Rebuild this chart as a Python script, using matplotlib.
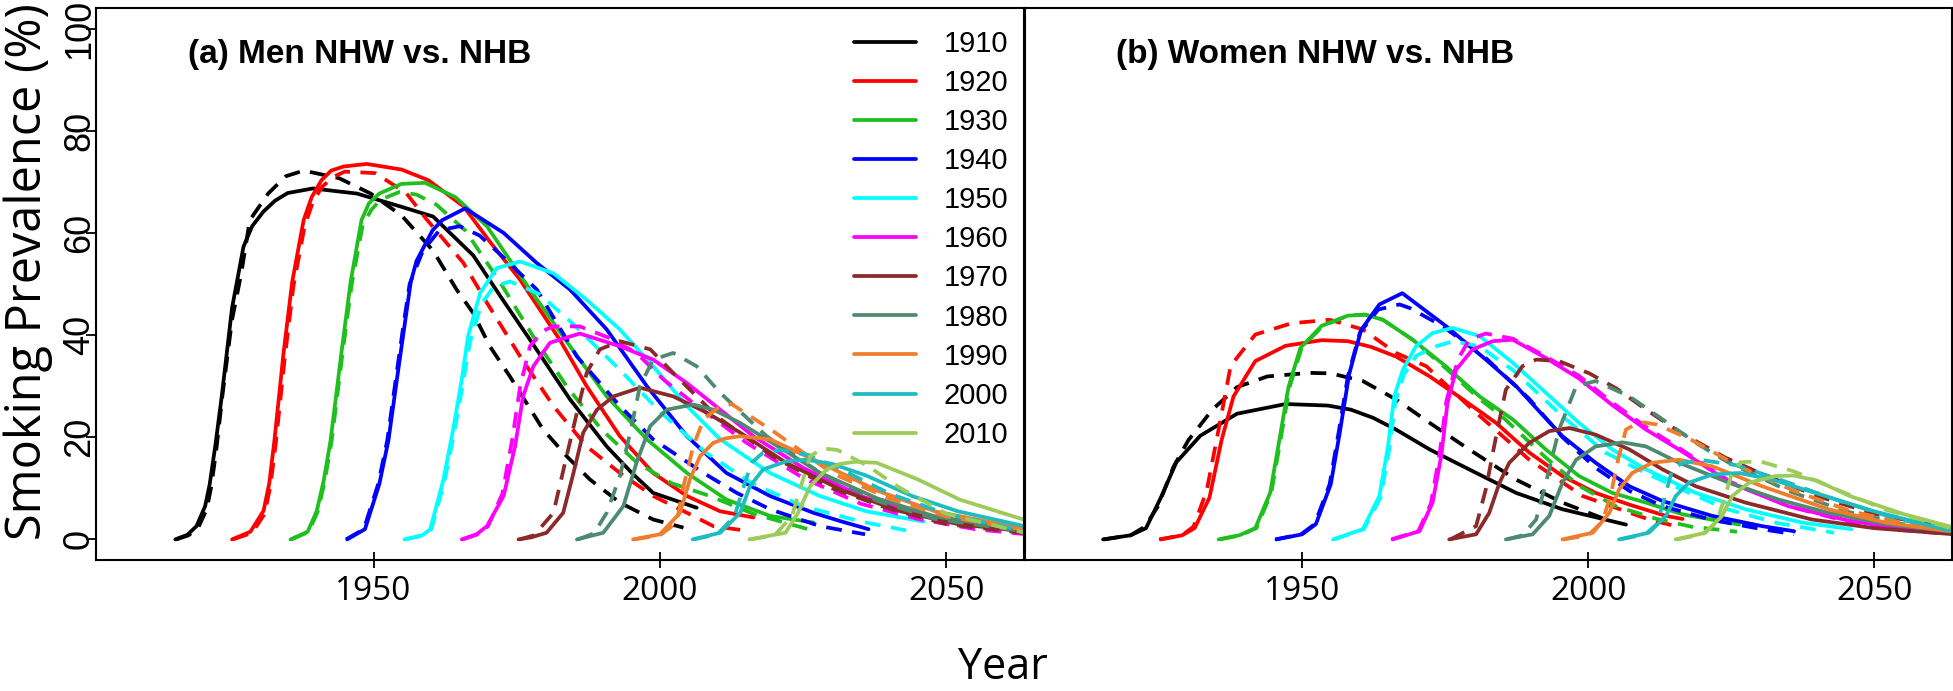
import matplotlib
matplotlib.use("Agg")
import matplotlib.pyplot as plt

# birth cohorts and their line colours
cohorts = [1910, 1920, 1930, 1940, 1950, 1960, 1970, 1980, 1990, 2000, 2010]
colors = ["#000000", "#ff0000", "#1fbf1f", "#0000ff", "#00ffff", "#ff00ff",
          "#8b2a2a", "#4d8a70", "#ee7e2e", "#1cbcc0", "#9ccb5a"]

# ---- men, NHW (solid) ----
men_nhw_x = [
    [1915.4, 1917.5, 1919.1, 1920.6, 1921.4, 1922.4, 1923.5, 1925.3, 1927.3, 1928.8, 1930.8, 1932.8, 1935, 1939.4, 1947.1, 1954.9, 1960.4, 1967.4, 1972.5, 1977.3, 1984.3, 1990.7, 1995.1, 1998.8, 2006.4],
    [1925.3, 1928.5, 1930.8, 1931.8, 1932.7, 1934.3, 1935.8, 1937.8, 1939.2, 1940.9, 1942.6, 1944.8, 1948.8, 1954.9, 1959.6, 1965.7, 1970.5, 1975.6, 1982.5, 1987.2, 1993, 1998.8, 2004.7, 2010.5, 2016.3],
    [1935.5, 1938.5, 1940.1, 1941.3, 1942.5, 1944.4, 1946, 1947.9, 1949.2, 1951, 1954.9, 1959, 1964.3, 1969.8, 1977.3, 1984.3, 1990.7, 1997.7, 2004.7, 2011.6, 2019.2, 2026.8],
    [1945.4, 1948.5, 1951, 1952.6, 1954.2, 1955.3, 1956.5, 1957.5, 1958.8, 1960.3, 1962, 1966, 1972.7, 1978.5, 1984.3, 1990.7, 1997.7, 2004.7, 2011.6, 2019.2, 2026.8, 2031.4, 2036.4],
    [1955.4, 1958.5, 1959.9, 1962.2, 1963.9, 1965.4, 1966.5, 1968.6, 1971.5, 1975.6, 1981.4, 1987.2, 1993, 1998.8, 2004.7, 2010.5, 2019.2, 2027.9, 2036, 2046],
    [1965.4, 1968, 1969.8, 1972.7, 1974.7, 1976.1, 1977.9, 1980.8, 1986, 1993, 1998.8, 2004.7, 2010.5, 2016.3, 2025, 2035, 2045, 2055, 2064],
    [1975.3, 1977.5, 1980.2, 1983.1, 1984.9, 1986.6, 1989, 1991.9, 1996.5, 2002.3, 2008.2, 2014, 2022, 2032, 2042, 2052, 2064],
    [1985.5, 1990.1, 1993.6, 1995.9, 1998.3, 2001.2, 2005.8, 2009.3, 2014, 2018.6, 2028, 2038, 2048, 2064],
    [1995.3, 2000, 2003.5, 2005.2, 2007, 2009.3, 2011.5, 2014, 2019.2, 2028, 2038, 2048, 2064],
    [2005.7, 2010.5, 2014, 2015.7, 2018, 2022.1, 2025.5, 2030, 2036, 2044, 2052, 2064],
    [2015.6, 2021.9, 2024.1, 2026.2, 2029.1, 2031.5, 2034.2, 2037.8, 2045.1, 2052.3, 2064],
]
men_nhw_y = [
    [0, 0.9, 2.6, 6.5, 10.8, 18.5, 28, 45.3, 57.3, 61.3, 64.2, 66.3, 67.8, 68.7, 67.7, 65.1, 63.2, 55.6, 47, 39.1, 27.4, 18.2, 13, 9.1, 6.2],
    [0, 1.5, 5.6, 11, 19.4, 36.6, 50.4, 62.5, 67, 70.3, 72.2, 73, 73.5, 72.4, 70.3, 65.2, 58, 50.8, 39.1, 30, 20.2, 13, 8.5, 5.5, 4.3],
    [0, 1.5, 5.6, 11.5, 19.4, 36.6, 50.4, 62.5, 65.8, 67.7, 69.6, 69.8, 67, 61.3, 48.9, 37.8, 28, 19.6, 13, 7.8, 4.6, 3.3],
    [0, 2, 10.8, 19.4, 32.3, 41, 50.4, 54.5, 57.3, 60.5, 62.5, 64.8, 60, 54.1, 48.9, 41.1, 30, 20.2, 13, 8.5, 5.2, 3.6, 2],
    [0, 0.8, 2, 11.7, 21.5, 31.3, 39.8, 48.2, 53.1, 54.4, 52.1, 46.9, 41.1, 33.9, 26.1, 19.6, 13, 8.5, 5.5, 3.5],
    [0, 1, 2.6, 8.5, 18.2, 28, 33.9, 38.5, 40.3, 37.8, 35.2, 30.6, 25.4, 20.2, 14, 8.5, 5, 3, 2],
    [0, 0.4, 1.3, 5.2, 13, 20.9, 25.4, 28, 29.7, 28, 24.8, 20.9, 15, 9.5, 5.5, 3, 1.5],
    [0, 1.3, 6.5, 15, 22.2, 25.4, 26.4, 25.4, 22.8, 19.6, 13, 8, 4.5, 1.8],
    [0, 1, 5.2, 11.7, 16.3, 18.9, 19.8, 20.2, 19.6, 15, 9.5, 5.5, 2],
    [0, 1.3, 5.2, 10.4, 13.7, 15.3, 15.6, 14.8, 12.5, 8.5, 5.5, 2.5],
    [0, 1.3, 5.2, 10.4, 13.7, 14.8, 15.2, 15, 11.7, 7.8, 3.7],
]

# ---- men, NHB (dashed) ----
men_nhb_x = [
    [1915.6, 1917.7, 1919.4, 1920.9, 1921.7, 1922.6, 1923.6, 1925.3, 1926.9, 1928.4, 1931.6, 1934.7, 1937.8, 1944, 1949.5, 1954.9, 1960.4, 1964.5, 1967.4, 1970.3, 1973.8, 1979.6, 1983.7, 1987.8, 1993, 1998.8, 2004.1],
    [1925.5, 1928.8, 1931, 1932, 1932.9, 1934.5, 1936, 1938, 1939.4, 1941, 1943, 1945, 1950.3, 1955.7, 1959.3, 1962.4, 1965.7, 1969.8, 1975.6, 1981.4, 1987.2, 1993, 1998.8, 2005.8, 2009.3, 2015.7],
    [1935.7, 1938.7, 1940.3, 1941.5, 1942.7, 1944.6, 1946.2, 1948.1, 1949.6, 1951.2, 1954.5, 1957.5, 1961, 1966, 1972, 1978, 1984, 1989.8, 1996, 2002, 2008.7, 2016.3, 2026.5],
    [1945.2, 1948.3, 1950.8, 1952.4, 1954, 1955.1, 1956.3, 1958.6, 1961.5, 1965, 1968.5, 1972.4, 1978.5, 1985.5, 1993, 1998.8, 2007.6, 2013.4, 2019.2, 2027.9, 2035.8],
    [1955.6, 1958.7, 1960.1, 1962.4, 1964.1, 1965.6, 1966.8, 1968.8, 1971, 1973.8, 1979, 1984.6, 1993, 2000, 2008, 2016, 2025, 2035, 2044.2],
    [1965.6, 1968.2, 1970, 1972.5, 1974.2, 1975.6, 1977.3, 1979.5, 1981.4, 1986, 1991, 1995.9, 2000.6, 2005.8, 2015, 2025, 2035, 2045, 2055, 2064],
    [1975.5, 1978, 1981.4, 1983.7, 1985.5, 1987.2, 1989.5, 1993, 1998.3, 2002.9, 2010, 2020, 2030, 2040, 2050, 2064],
    [1985.7, 1988.5, 1990.7, 1993, 1994.8, 1996.5, 1998.8, 2002.3, 2006.4, 2010.5, 2018.6, 2028, 2038, 2048, 2064],
    [1995.5, 2000, 2002.9, 2004.1, 2005.8, 2007.6, 2010.5, 2012.5, 2020, 2030, 2040, 2050, 2064],
    [2005.9, 2010, 2013, 2014.5, 2016, 2018, 2021, 2026, 2032, 2040, 2050, 2064],
    [2015.8, 2020, 2023, 2024.5, 2026.2, 2028.5, 2031, 2036.4, 2041.4, 2050, 2064],
]
men_nhb_y = [
    [0, 0.8, 2.3, 6, 10.5, 18, 28, 43, 52, 62.5, 67.7, 71.1, 72.2, 70.7, 67.7, 63.4, 56.5, 48.9, 44.3, 37.8, 31.9, 21.5, 16.3, 11.7, 7.2, 3.9, 2.3],
    [0, 1.3, 5, 10.5, 18.5, 35.5, 49.5, 61.5, 66, 69, 71, 72, 71.7, 67.8, 62.6, 58.5, 54.1, 46.3, 35.8, 26.1, 18.2, 13, 8.5, 4.6, 2.6, 1.6],
    [0, 1.5, 5.6, 11.5, 19.4, 36.6, 50, 61.5, 64.5, 66.5, 68, 67.5, 65.5, 60.5, 50.5, 39.5, 29.5, 21.5, 15, 11, 8.5, 5, 1.8],
    [0, 2, 10.8, 19.4, 32.3, 41, 50, 56.5, 60.5, 61.3, 59.5, 55.5, 48.9, 35.8, 26.1, 19.6, 13, 9.1, 5.9, 2.6, 1],
    [0, 0.8, 2, 11.5, 21, 30.5, 38.5, 46, 49.5, 50.5, 48, 42.4, 33.2, 25, 17, 11, 6.5, 3.5, 1.5],
    [0, 1, 2.6, 9, 19.5, 30, 37.8, 40.8, 41.7, 41.7, 39.5, 36.5, 31.3, 26.7, 19, 12, 7, 4, 2, 1],
    [0, 0.8, 5.2, 16.3, 24.8, 32.6, 37.2, 38.8, 37.2, 31.9, 24, 16, 10, 6, 3, 1.2],
    [0, 1.2, 5.2, 12.4, 20.9, 30, 35.2, 36.5, 33.9, 28.7, 20.2, 13, 7.5, 4, 1.5],
    [0, 0.8, 3.3, 10.4, 18.2, 23.5, 26.1, 26.5, 21, 13, 8, 4.5, 1.8],
    [0, 1, 4.5, 10, 15, 17, 17.5, 16.5, 13.5, 9, 5, 1.5],
    [0, 0.8, 4.5, 10, 16.3, 17.8, 17.5, 14.3, 10.4, 5, 1.2],
]

# ---- women, NHW (solid) ----
women_nhw_x = [
    [1915.2, 1920, 1922.7, 1925.3, 1928, 1932.2, 1938.6, 1947.1, 1954.5, 1958.5, 1962.4, 1966.4, 1972.3, 1979.2, 1987.4, 1995.5, 2006.6],
    [1925.3, 1929, 1931.2, 1933.8, 1935.9, 1938, 1941.8, 1947.1, 1953.4, 1958, 1962, 1966.4, 1972.3, 1978.1, 1983.9, 1989.7, 1995.5, 2001.3, 2007.2, 2013.6, 2016.5],
    [1935.4, 1939, 1941.8, 1944.4, 1946, 1947.6, 1949.7, 1953.4, 1958, 1961, 1964.1, 1969.3, 1975.1, 1981, 1986.8, 1992.6, 1998.4, 2004.2, 2010.1, 2016.5, 2026.4],
    [1945.5, 1950, 1952.4, 1955, 1956.6, 1958.2, 1960.3, 1963.5, 1967.5, 1975.2, 1982.1, 1987.4, 1991.5, 1995.5, 2001.3, 2007.2, 2013, 2021.7, 2030.4, 2036],
    [1955.4, 1960.6, 1963.5, 1965, 1966.1, 1967.6, 1969.9, 1972.8, 1976.3, 1981, 1986.8, 1992.6, 1998.4, 2004.2, 2010.1, 2018.8, 2027.5, 2037.4, 2046],
    [1965.8, 1970.5, 1972.8, 1974.3, 1975.4, 1976.9, 1979.8, 1983.3, 1986.8, 1992.6, 1998.4, 2004.2, 2010.1, 2016, 2025, 2035, 2045, 2055, 2064],
    [1975.7, 1980.4, 1982.7, 1984.5, 1986.2, 1989.7, 1993.2, 1996.7, 2001.3, 2007.2, 2013, 2018.8, 2027.5, 2039.1, 2050, 2064],
    [1985.6, 1990.3, 1993.2, 1995.5, 1997.9, 2001.3, 2006, 2010.1, 2015.9, 2024.6, 2033.3, 2042, 2052, 2064],
    [1995.5, 2000.8, 2003.7, 2005.4, 2007.7, 2011.2, 2015.9, 2021.7, 2030.4, 2042, 2052, 2064],
    [2005.4, 2010.6, 2013.6, 2015.3, 2017.6, 2021.7, 2026.4, 2032.2, 2040, 2050, 2064],
    [2015.3, 2020.5, 2023.4, 2025.2, 2028.1, 2032.8, 2036, 2040, 2045.7, 2055, 2064],
]
women_nhw_y = [
    [0, 0.8, 2.2, 8.2, 15.1, 20.3, 24.6, 26.5, 26.2, 25.4, 23.8, 21.5, 17.6, 13.7, 9.1, 5.9, 2.9],
    [0, 0.8, 2.2, 8.2, 19.4, 28, 34.9, 37.9, 39, 38.8, 37.7, 35.8, 31.9, 27.4, 22.8, 17, 12.4, 9.1, 6.8, 4.6, 4],
    [0, 0.8, 2.2, 9.1, 19.4, 29.8, 37.5, 41.8, 43.8, 44, 43, 39.1, 33.9, 28, 23.5, 17.6, 12.4, 9.1, 7.2, 4.9, 2.9],
    [0, 1, 3, 10.8, 21.1, 32.3, 41, 46, 48.2, 41.7, 35.2, 30, 25, 20.2, 15, 10.4, 7.5, 4.6, 2.6, 1.6],
    [0, 2, 8.5, 18.2, 28, 33.2, 37.8, 40.4, 41.4, 39.8, 34.6, 28.7, 22.8, 17.6, 13.7, 9.1, 5.9, 3.3, 2],
    [0, 1.6, 7.2, 16.3, 26.7, 33.2, 37.2, 38.8, 39.1, 35.5, 31.5, 26.3, 21.5, 17.5, 11, 6.5, 3.8, 2, 1.2],
    [0, 1, 5.2, 11.1, 15, 18.9, 21.2, 21.8, 20.5, 17.6, 13.7, 10.4, 7.2, 3.9, 2.2, 1],
    [0, 1, 4.6, 11.1, 15.6, 18.2, 19, 18.2, 15, 11.1, 7.8, 5.2, 3, 1.5],
    [0, 1.3, 5.2, 9.8, 13, 15, 15.6, 14.3, 10.4, 5.9, 3.3, 1.5],
    [0, 1.3, 4.6, 8.5, 11.1, 12.7, 13, 11.7, 9, 5.5, 1.5],
    [0, 1.3, 4.6, 8.5, 11.1, 12.4, 12.5, 11.5, 8.5, 5, 2.3],
]

# ---- women, NHB (dashed) ----
women_nhb_x = [
    [1915.3, 1920, 1922.5, 1924.8, 1927.5, 1930.1, 1934.3, 1938.6, 1943.9, 1951.3, 1955, 1960.6, 1966.4, 1972.3, 1979.2, 1987.4, 1995.5, 2004],
    [1925, 1929, 1931, 1933.3, 1935.3, 1937.5, 1941.8, 1948.1, 1954.8, 1960.6, 1966.4, 1971.7, 1979.8, 1989.7, 1999, 2010.6, 2015.3],
    [1935.6, 1939.2, 1942, 1944.6, 1946.2, 1947.8, 1949.9, 1953.6, 1958, 1961, 1964.1, 1969.3, 1975.1, 1981, 1985, 1992.6, 1998.4, 2004.8, 2012, 2018, 2026],
    [1945.3, 1949.8, 1952.2, 1954.8, 1956.4, 1958, 1960.1, 1963.3, 1967, 1968.8, 1974.6, 1982.1, 1989.7, 1995.5, 2001.3, 2007.2, 2013, 2021.7, 2030.4, 2036],
    [1955.6, 1960.8, 1963.7, 1965.2, 1966.3, 1967.8, 1970, 1973.4, 1976.5, 1981, 1987, 1995.5, 2003, 2010, 2015.9, 2024, 2033, 2043],
    [1965.6, 1970.3, 1972.5, 1974, 1975.2, 1976.5, 1977.5, 1979.2, 1982.1, 1986.8, 1992.6, 1998.4, 2004.2, 2010.1, 2016, 2025, 2035, 2045, 2055, 2064],
    [1975.9, 1980.4, 1982.1, 1983.9, 1985.6, 1988.5, 1990.9, 1994.9, 2000.2, 2005, 2010, 2016, 2024, 2030, 2040, 2050, 2064],
    [1985.8, 1988.5, 1990.9, 1992.6, 1994.9, 1997.9, 2001.3, 2007.2, 2013, 2018.8, 2024.6, 2035, 2045, 2055, 2064],
    [1995.7, 2000, 2002.5, 2004, 2005.3, 2006.6, 2009, 2012, 2018, 2026, 2036, 2046, 2056, 2064],
    [2005.6, 2010, 2012, 2013.2, 2014.7, 2016.5, 2020, 2026, 2034, 2044, 2054, 2064],
    [2015.5, 2020, 2022.5, 2023.8, 2025, 2026.6, 2030, 2036, 2044, 2052, 2064],
]
women_nhb_y = [
    [0, 0.8, 2.5, 6.5, 14.2, 19.4, 25.4, 29.8, 31.9, 32.6, 32.5, 31, 27.4, 22.8, 17.6, 11.7, 7.2, 3.5],
    [0, 0.8, 2.5, 9.5, 21, 34, 40.1, 42.3, 43, 41.1, 36.5, 33.9, 25.4, 15.6, 8.5, 3.9, 2.6],
    [0, 0.8, 2.2, 9.1, 19.4, 29.8, 37.5, 41.8, 43.8, 44, 43, 39.1, 33.5, 27.5, 24, 16, 10.5, 6.5, 4, 2.5, 1.5],
    [0, 1, 3, 10.8, 21.1, 32, 40.5, 45, 46, 45.3, 41.7, 35.5, 27.5, 20, 14, 9.5, 6.5, 3.8, 2, 1],
    [0, 2, 8.2, 17.5, 27, 32.3, 36, 37.8, 38.8, 37.8, 33, 24.1, 17, 13, 10, 6, 3.2, 1.3],
    [0, 1.6, 7, 16.5, 27, 32.5, 35.8, 39.1, 40.3, 39.3, 35.8, 32, 26.8, 22, 17.8, 11.2, 6.5, 3.6, 1.8, 1],
    [0, 2.6, 9.8, 20.2, 29.3, 33.9, 35.2, 34.9, 32.5, 29.5, 25.5, 21, 16, 13, 8.5, 5, 2],
    [0, 0.8, 3.9, 11.1, 21.5, 30, 31, 28, 23.5, 18.9, 15, 9.5, 5.5, 3, 1.8],
    [0, 0.8, 3.5, 9, 16, 21.5, 23, 22.5, 19.5, 14.5, 9.5, 5.5, 3, 1.8],
    [0, 1, 3, 7.5, 13.7, 15, 15.5, 14.5, 11.5, 7.5, 4, 1.8],
    [0, 1, 3.5, 8, 12.5, 15.1, 15.3, 13.3, 9.5, 5.8, 2],
]

x_ticks = [1950, 2000, 2050]
y_ticks = [0, 20, 40, 60, 80, 100]
panel_titles = ["(a) Men NHW vs. NHB", "(b) Women NHW vs. NHB"]

LW = 2.7
fig = plt.figure(figsize=(19.53, 6.91), dpi=100)
ax1 = fig.add_axes([0.0490, 0.1896, 0.4755, 0.7990])
ax2 = fig.add_axes([0.5247, 0.1896, 0.4748, 0.7990])

panels = [(ax1, men_nhw_x, men_nhw_y, men_nhb_x, men_nhb_y),
          (ax2, women_nhw_x, women_nhw_y, women_nhb_x, women_nhb_y)]

for ax, sx, sy, dx, dy in panels:
    for i, c in enumerate(cohorts):
        ax.plot(sx[i], sy[i], color=colors[i], lw=LW, solid_joinstyle="round",
                solid_capstyle="round", label=str(c))
        ax.plot(dx[i], dy[i], color=colors[i], lw=LW, dashes=(4.2, 2.8),
                dash_joinstyle="round")
    ax.set_xlim(1901.5, 2063.6)
    ax.set_ylim(-4.03, 104.05)
    ax.set_xticks(x_ticks)
    ax.set_xticklabels([str(t) for t in x_ticks], fontfamily="Open Sans", fontsize=24)
    ax.tick_params(axis="x", direction="inout", length=11, width=1.3, pad=5)
    for sp in ax.spines.values():
        sp.set_linewidth(1.5)

ax1.set_yticks(y_ticks)
ax1.set_yticklabels([str(t) for t in y_ticks], rotation=90, va="center",
                    fontfamily="Liberation Sans", fontsize=26)
ax1.tick_params(axis="y", direction="out", length=7, width=1.3, pad=-8)
ax2.set_yticks([])

ax1.text(0.0994, 0.8997, panel_titles[0], transform=ax1.transAxes,
         fontfamily="Liberation Sans", fontweight="bold", fontsize=24, va="baseline")
ax2.text(0.0979, 0.8997, panel_titles[1], transform=ax2.transAxes,
         fontfamily="Liberation Sans", fontweight="bold", fontsize=24, va="baseline")

ax1.legend(loc="upper right", bbox_to_anchor=(0.9824, 0.96), frameon=False,
           prop={"family": "Liberation Sans", "size": 21}, handlelength=2.12,
           handletextpad=0.95, labelspacing=0.38, borderaxespad=0, borderpad=0)

fig.text(0.0212, 0.6064, "Smoking Prevalence (%)", rotation=90, rotation_mode="anchor",
         ha="center", va="baseline", fontfamily="Open Sans", fontsize=35)
fig.text(0.5136, 0.0015, "Year", ha="center", va="bottom",
         fontfamily="Open Sans", fontsize=31)

fig.savefig("out.png", dpi=100)
